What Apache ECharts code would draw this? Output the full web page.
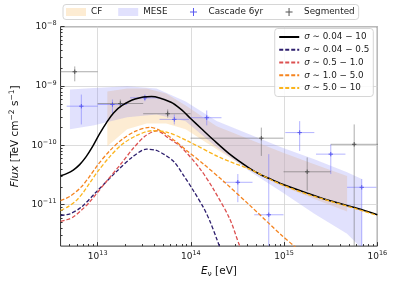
<!DOCTYPE html>
<html><head><meta charset="utf-8">
<script src="https://cdn.jsdelivr.net/npm/echarts@6/dist/echarts.min.js"></script>
<style>html,body{margin:0;padding:0;background:#fff}#c{width:397px;height:283px}</style>
</head><body><div id="c"></div>
<script>
// ---------- tick labels ----------
const xTickValues = [1e13, 1e14, 1e15, 1e16];
const yTickValues = [1e-11, 1e-10, 1e-9, 1e-8];

// ---------- model curves ----------
const totalName = 'σ ∼ 0.04 − 10';
const totalE = [4.0e12, 4.65e12, 5.47e12, 6.41e12, 7.53e12, 8.87e12, 1.04e13, 1.25e13, 1.48e13, 1.83e13, 2.52e13, 3.78e13, 6.12e13, 7.85e13, 9.93e13, 1.3e14, 1.74e14, 2.61e14, 4.23e14, 5.56e14, 7.13e14, 9.46e14, 1.8e15, 2.92e15, 6.04e15, 1.0e16];
const totalF = [3.07e-11, 3.34e-11, 3.83e-11, 4.73e-11, 6.44e-11, 9.66e-11, 1.53e-10, 2.44e-10, 3.52e-10, 4.7e-10, 6.04e-10, 6.64e-10, 5.33e-10, 4.03e-10, 2.84e-10, 1.9e-10, 1.24e-10, 7.1e-11, 4.13e-11, 3.22e-11, 2.7e-11, 2.23e-11, 1.55e-11, 1.2e-11, 8.67e-12, 6.75e-12];

const s1Name = 'σ ∼ 0.04 − 0.5';
const s1E = [4.0e12, 5.04e12, 6.68e12, 9.6e12, 1.56e13, 2.33e13, 3.35e13, 4.19e13, 5.21e13, 6.64e13, 8.45e13, 1.07e14, 1.37e14, 1.61e14, 1.89e14, 2.22e14];
const s1F = [6.56e-12, 7.01e-12, 9.08e-12, 1.62e-11, 3.5e-11, 6.25e-11, 8.61e-11, 8.28e-11, 6.97e-11, 5.21e-11, 3.03e-11, 1.7e-11, 8.83e-12, 5.15e-12, 2.67e-12, 1.34e-12];

const s2Name = 'σ ∼ 0.5 − 1.0';
const s2E = [4.0e12, 4.65e12, 5.47e12, 6.68e12, 8.17e12, 1.22e13, 1.83e13, 2.41e13, 3.21e13, 4.3e13, 5.88e13, 7.8e13, 1.26e14, 1.74e14, 2.61e14, 3.32e14, 3.96e14];
const s2F = [5.21e-12, 5.56e-12, 6.18e-12, 8.03e-12, 1.1e-11, 2.38e-11, 5.15e-11, 8.93e-11, 1.42e-10, 1.76e-10, 1.29e-10, 9.48e-11, 3.98e-11, 1.84e-11, 5.78e-12, 2.07e-12, 1.15e-12];

const s3Name = 'σ ∼ 1.0 − 5.0';
const s3E = [4.0e12, 5.04e12, 6.68e12, 8.17e12, 1.0e13, 1.35e13, 1.83e13, 2.52e13, 3.62e13, 4.73e13, 6.12e13, 9.14e13, 1.37e14, 2.22e14, 4.23e14, 9.46e14, 1.26e15, 1.73e15];
const s3F = [1.17e-11, 1.38e-11, 1.99e-11, 2.98e-11, 4.65e-11, 8.13e-11, 1.26e-10, 1.72e-10, 2.01e-10, 1.76e-10, 1.34e-10, 8.05e-11, 4.82e-11, 2.51e-11, 9.93e-12, 3.02e-12, 2.05e-12, 1.29e-12];

const s4Name = 'σ ∼ 5.0 − 10';
const s4E = [4.0e12, 4.88e12, 5.92e12, 7.02e12, 8.17e12, 1.0e13, 1.35e13, 1.83e13, 2.58e13, 3.8e13, 5.6e13, 9.14e13, 2.05e14, 4.58e14, 8.73e14, 1.8e15, 6.03e15, 1.0e16];
const s4F = [7.96e-12, 9.35e-12, 1.18e-11, 1.61e-11, 2.28e-11, 3.61e-11, 6.44e-11, 1.04e-10, 1.45e-10, 1.76e-10, 1.66e-10, 1.19e-10, 6.25e-11, 3.76e-11, 2.28e-11, 1.49e-11, 8.43e-12, 6.56e-12];

// ---------- bands ----------
const cfE  = [1.27e13, 2.07e13, 3.35e13, 5.43e13, 8.79e13, 1.89e14, 4.23e14, 9.46e14, 2.11e15, 4.74e15];
const cfHi = [8.05e-10, 9.04e-10, 9.04e-10, 7.46e-10, 4.7e-10, 2.09e-10, 1.26e-10, 7.66e-11, 4.82e-11, 3.03e-11];
const cfLo = [9.66e-11, 1.86e-10, 2.34e-10, 2.34e-10, 1.86e-10, 8.61e-11, 3.83e-11, 2.07e-11, 1.25e-11, 7.66e-12];

const meseE  = [5.04e12, 9.2e12, 2.07e13, 4.27e13, 8.79e13, 1.89e14, 4.23e14, 9.46e14, 2.11e15, 4.74e15, 6.81e15];
const meseHi = [8.71e-10, 9.29e-10, 9.89e-10, 9.04e-10, 5.48e-10, 2.56e-10, 1.53e-10, 9.18e-11, 5.85e-11, 3.5e-11, 2.7e-11];
const meseLo = [1.86e-10, 2.17e-10, 2.96e-10, 3.32e-10, 2.54e-10, 9.29e-11, 3.68e-11, 1.64e-11, 7.01e-12, 3.24e-12, 1.82e-12];

// ---------- data points ----------
const casE   = [6.68e12, 1.44e13, 3.21e13, 6.64e13, 1.48e14, 3.19e14, 6.85e14, 1.47e15, 3.17e15, 6.81e15];
const casF   = [4.57e-10, 4.88e-10, 6.32e-10, 2.74e-10, 2.92e-10, 2.38e-11, 6.75e-12, 1.64e-10, 7.1e-11, 1.96e-11];
const casElo = [4.65e12, 1.0e13, 2.23e13, 4.61e13, 9.93e13, 2.22e14, 4.78e14, 1.03e15, 2.2e15, 4.74e15];
const casEhi = [1.0e13, 2.07e13, 4.61e13, 9.53e13, 2.13e14, 4.58e14, 9.86e14, 2.11e15, 4.55e15, 9.79e15];
const casFlo = [2.25e-10, 3.32e-10, 5.55e-10, 2.25e-10, 2.17e-10, 1.1e-11, 1e-13, 8.05e-11, 3.28e-11, 1e-13];
const casFhi = [7.18e-10, 5.92e-10, 7.18e-10, 3.32e-10, 3.87e-10, 3.28e-11, 7.1e-11, 2.56e-10, 1.04e-10, 2.7e-11];

const segE   = [5.68e12, 1.75e13, 5.64e13, 5.7e14, 1.77e15, 5.65e15];
const segF   = [1.74e-9, 5.07e-10, 3.41e-10, 1.32e-10, 3.58e-11, 1.04e-10];
const segElo = [3.2e12, 1.0e13, 3.08e13, 9.93e13, 9.86e14, 3.17e15];
const segEhi = [1.0e13, 3.08e13, 9.93e13, 9.86e14, 3.17e15, 1.04e16];
const segFlo = [1.2e-9, 4.3e-10, 2.92e-10, 6.64e-11, 1.72e-11, 1e-13];
const segFhi = [2.14e-9, 5.92e-10, 4.03e-10, 1.99e-10, 6.25e-11, 2.25e-10];

// ---------- styling ----------
const FONT = 'DejaVu Sans';
const CF_COLOR = 'rgba(250,210,150,0.42)';
const MESE_COLOR = 'rgba(120,120,245,0.22)';
const CAS_BAR = 'rgba(105,105,255,0.5)';
const CAS_MARK = '#5a5af0';
const SEG_BAR = 'rgba(90,90,90,0.5)';
const SEG_MARK = '#555555';

const zip = (a, b) => a.map((v, i) => [v, b[i]]);

function bandRender(E, lo, hi, color) {
  return function (params, api) {
    if (params.dataIndex !== 0) return null;
    const pts = [];
    for (let i = 0; i < E.length; i++) pts.push(api.coord([E[i], hi[i]]));
    for (let i = E.length - 1; i >= 0; i--) pts.push(api.coord([E[i], lo[i]]));
    return { type: 'polygon', shape: { points: pts }, style: { fill: color } };
  };
}
function errRender(barColor, markColor) {
  return function (params, api) {
    const x = api.value(0), y = api.value(1);
    const c = api.coord([x, y]);
    const l = api.coord([api.value(2), y]), r = api.coord([api.value(3), y]);
    const b = api.coord([x, api.value(4)]), t = api.coord([x, api.value(5)]);
    const s = 2.2;
    return { type: 'group', children: [
      { type: 'line', shape: { x1: l[0], y1: l[1], x2: r[0], y2: r[1] }, style: { stroke: barColor, lineWidth: 1 } },
      { type: 'line', shape: { x1: b[0], y1: b[1], x2: t[0], y2: t[1] }, style: { stroke: barColor, lineWidth: 1 } },
      { type: 'line', shape: { x1: c[0] - s, y1: c[1], x2: c[0] + s, y2: c[1] }, style: { stroke: markColor, lineWidth: 1 } },
      { type: 'line', shape: { x1: c[0], y1: c[1] - s, x2: c[0], y2: c[1] + s }, style: { stroke: markColor, lineWidth: 1 } }
    ] };
  };
}

const minorX = [], minorY = [];
for (let e = 12; e <= 15; e++) for (let k = 2; k <= 9; k++) { const v = k * Math.pow(10, e); if (v > 4e12 && v < 1e16) minorX.push(v); }
for (let e = -12; e <= -9; e++) for (let k = 2; k <= 9; k++) { const v = k * Math.pow(10, e); if (v > 2e-12 && v < 1e-8) minorY.push(v); }

function expLabel(v) {
  const e = Math.round(Math.log10(v));
  return '{b|10}{s|' + (e < 0 ? '\u2212' + (-e) : e) + '}';
}
const tickRich = { b: { fontSize: 9, fontFamily: FONT, color: '#222' }, s: { fontSize: 6.5, fontFamily: FONT, color: '#222', padding: [0, 0, 6, 0] } };

const XMIN = 4e12, XMAX = 1e16, YMIN = 2e-12, YMAX = 1e-8;
const crossIcon = 'path://M0,0M20,8M9.5,0H10.5V8H9.5ZM6.5,3.5H13.5V4.5H6.5Z';

function lineSeries(name, E, F, color, dashed, width) {
  return { type: 'line', name, data: zip(E, F), smooth: 0.3, symbol: 'none', z: 5,
    lineStyle: { color, width, type: dashed ? [4, 2] : 'solid' }, itemStyle: { color } };
}

const option = {
  animation: false,
  grid: { left: 53.3, right: 19.7, top: 26.7, bottom: 36.3, show: true, borderColor: '#333', borderWidth: 1, backgroundColor: 'transparent' },
  xAxis: [
    { type: 'log', logBase: 10, min: XMIN, max: XMAX, position: 'bottom',
      name: '{i|E}{sub|ν} [eV]', nameLocation: 'middle', nameGap: 14,
      nameTextStyle: { fontSize: 10.5, fontFamily: FONT, color: '#111',
        rich: { i: { fontStyle: 'italic', fontSize: 10.5, fontFamily: FONT }, sub: { fontSize: 7.5, fontFamily: FONT, padding: [5, 0, 0, 0] } } },
      axisLine: { show: false },
      axisTick: { inside: true, length: 4, customValues: xTickValues, lineStyle: { color: '#333' } },
      axisLabel: { customValues: xTickValues, formatter: expLabel, rich: tickRich, margin: 4 },
      splitLine: { show: true, lineStyle: { color: '#d3d3d3', width: 0.8 } } },
    { type: 'log', logBase: 10, min: XMIN, max: XMAX, position: 'bottom',
      axisLine: { show: false }, axisLabel: { show: false }, splitLine: { show: false },
      axisTick: { inside: true, length: 2, customValues: minorX, lineStyle: { color: '#333' } } }
  ],
  yAxis: [
    { type: 'log', logBase: 10, min: YMIN, max: YMAX, position: 'left',
      name: '{i|Flux} [TeV cm{s|\u22122} s{s|\u22121}]', nameLocation: 'middle', nameGap: 33, nameRotate: 90,
      nameTextStyle: { fontSize: 10.5, fontFamily: FONT, color: '#111',
        rich: { i: { fontStyle: 'italic', fontSize: 10.5, fontFamily: FONT }, s: { fontSize: 7.5, fontFamily: FONT, padding: [0, 0, 6, 0] } } },
      axisLine: { show: false },
      axisTick: { inside: true, length: 4, customValues: yTickValues, lineStyle: { color: '#333' } },
      axisLabel: { customValues: yTickValues, formatter: expLabel, rich: tickRich, margin: 4 },
      splitLine: { show: true, lineStyle: { color: '#d3d3d3', width: 0.8 } } },
    { type: 'log', logBase: 10, min: YMIN, max: YMAX, position: 'left',
      axisLine: { show: false }, axisLabel: { show: false }, splitLine: { show: false },
      axisTick: { inside: true, length: 2, customValues: minorY, lineStyle: { color: '#333' } } }
  ],
  legend: [
    { data: [
        { name: 'CF', icon: 'rect', itemStyle: { color: CF_COLOR } },
        { name: 'MESE', icon: 'rect', itemStyle: { color: MESE_COLOR } },
        { name: 'Cascade 6yr', icon: crossIcon, itemStyle: { color: CAS_MARK } },
        { name: 'Segmented', icon: crossIcon, itemStyle: { color: SEG_MARK } } ],
      left: 63, top: 4.5, orient: 'horizontal', itemWidth: 20, itemHeight: 8, itemGap: 16,
      padding: [3, 4, 3, 3], borderColor: '#cccccc', borderWidth: 0.8, borderRadius: 3,
      backgroundColor: '#fff', selectedMode: false,
      textStyle: { fontSize: 8.8, fontFamily: FONT, color: '#222' } },
    { data: [totalName, s1Name, s2Name, s3Name, s4Name],
      right: 23.7, top: 28.5, orient: 'vertical', itemWidth: 20, itemHeight: 8, itemGap: 1.75,
      padding: [3, 4, 3, 3.5], borderColor: '#cccccc', borderWidth: 0.8, borderRadius: 3,
      backgroundColor: 'rgba(255,255,255,0.85)', selectedMode: false,
      itemStyle: { opacity: 0 },
      formatter: n => n.replace('σ', '{i|σ}'),
      textStyle: { fontSize: 8.8, fontFamily: FONT, color: '#222', lineHeight: 11,
        rich: { i: { fontStyle: 'italic', fontSize: 8.8, fontFamily: FONT, lineHeight: 11 } } } }
  ],
  series: [
    { type: 'custom', name: 'CF', data: cfE.map((e, i) => [e, cfLo[i], cfHi[i]]), encode: { x: 0, y: [1, 2] },
      renderItem: bandRender(cfE, cfLo, cfHi, CF_COLOR), itemStyle: { color: CF_COLOR }, clip: true, z: 1 },
    { type: 'custom', name: 'MESE', data: meseE.map((e, i) => [e, meseLo[i], meseHi[i]]), encode: { x: 0, y: [1, 2] },
      renderItem: bandRender(meseE, meseLo, meseHi, MESE_COLOR), itemStyle: { color: MESE_COLOR }, clip: true, z: 1 },
    { type: 'custom', name: 'Cascade 6yr', data: casE.map((e, i) => [e, casF[i], casElo[i], casEhi[i], casFlo[i], casFhi[i]]),
      encode: { x: 0, y: 1 }, renderItem: errRender(CAS_BAR, CAS_MARK), itemStyle: { color: CAS_MARK }, clip: true, z: 3 },
    { type: 'custom', name: 'Segmented', data: segE.map((e, i) => [e, segF[i], segElo[i], segEhi[i], segFlo[i], segFhi[i]]),
      encode: { x: 0, y: 1 }, renderItem: errRender(SEG_BAR, SEG_MARK), itemStyle: { color: SEG_MARK }, clip: true, z: 3 },
    lineSeries(totalName, totalE, totalF, '#000000', false, 1.5),
    lineSeries(s1Name, s1E, s1F, '#2e1f6e', true, 1.3),
    lineSeries(s2Name, s2E, s2F, '#dc5050', true, 1.3),
    lineSeries(s3Name, s3E, s3F, '#f5841f', true, 1.3),
    lineSeries(s4Name, s4E, s4F, '#fbb41c', true, 1.3)
  ]
};
const chart = echarts.init(document.getElementById('c'), null, { renderer: 'canvas' });
chart.setOption(option);
</script></body></html>
